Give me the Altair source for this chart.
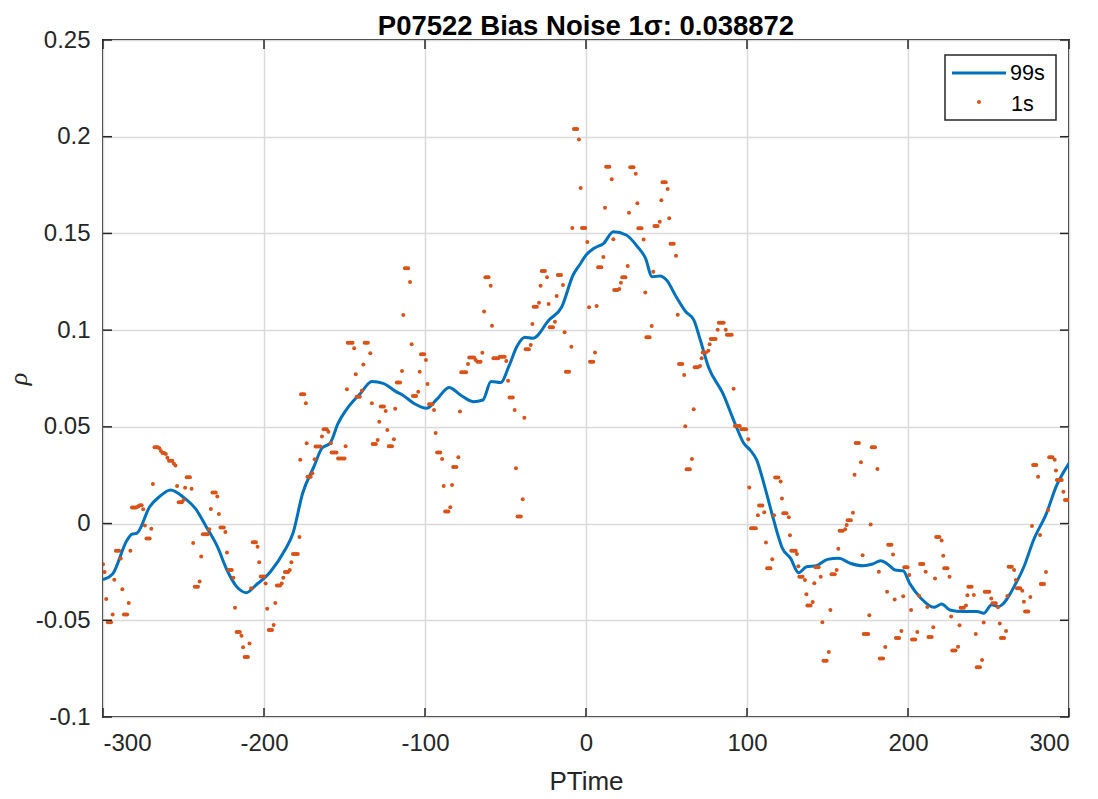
import altair as alt
import pandas as pd

# ---- data ----
line_99s = [(-300,-0.029),(-294,-0.026),(-285,-0.0085),(-282,-0.0055),(-279,-0.005),(-271,0.0087),(-265,0.0139),
(-258,0.0174),(-250,0.0136),(-242,0.0071),(-236,-0.0015),(-229,-0.0118),(-223,-0.024),(-217,-0.0326),(-211,-0.0357),
(-205,-0.0318),(-196,-0.0249),(-187,-0.0137),(-182,-0.005),(-176,0.0157),(-169,0.0294),(-164,0.039),(-159,0.0415),
(-154,0.0518),(-149,0.0587),(-140,0.0674),(-133,0.0734),(-126,0.0725),(-118,0.0682),(-114,0.0665),(-107,0.0622),
(-99,0.0596),(-93,0.0639),(-85,0.0704),(-78,0.0665),(-70,0.063),(-64,0.0639),(-59,0.0734),(-53,0.0729),(-48,0.0811),
(-43,0.0914),(-38,0.0963),(-33,0.0958),(-23,0.1052),(-15,0.1121),(-8,0.1285),(-4,0.1337),(0,0.1388),(5,0.1423),
(11,0.1449),(17,0.1509),(25,0.1492),(32,0.1431),(37,0.1371),(41,0.1276),(46,0.128),(50,0.1259),(56,0.1173),
(62,0.1095),(67,0.1052),(71,0.0949),(76,0.0811),(85,0.0673),(93,0.0508),(98,0.0415),(102,0.038),(106,0.0329),
(111,0.0191),(116,0.0036),(122,-0.0128),(127,-0.0179),(132,-0.0254),(137,-0.0223),(143,-0.0218),(150,-0.0185),
(157,-0.0179),(164,-0.0205),(172,-0.0218),(178,-0.0209),(183,-0.0192),(188,-0.0214),(192,-0.024),(197,-0.0244),
(201,-0.0309),(208,-0.0386),(216,-0.0433),(221,-0.0416),(226,-0.0447),(234,-0.0455),(243,-0.0455),(247,-0.0464),
(252,-0.042),(256,-0.0429),(267,-0.0309),(272,-0.0223),(278,-0.0085),(286,0.0053),(292,0.0191),(300,0.0311)]

dots_1s = [(-300,-0.021),(-299,-0.025),(-298,-0.039),(-297,-0.051),(-296,-0.051),(-295,-0.051),(-294,-0.047),(-293,-0.029),
(-292,-0.014),(-291,-0.014),(-290,-0.014),(-289,-0.018),(-288,-0.034),(-287,-0.047),(-286,-0.047),(-285,-0.047),
(-284,-0.041),(-283,-0.014),(-282,0.0083),(-281,0.0083),(-280,0.0083),(-279,0.0085),(-278,0.009),(-277,0.0095),
(-276,0.0095),(-275,0.0074),(-274,-0.001),(-273,-0.0077),(-272,-0.0077),(-271,-0.0077),(-270,-0.0027),(-269,0.0205),
(-268,0.0394),(-267,0.0394),(-266,0.0394),(-265,0.039),(-264,0.0375),(-263,0.0365),(-262,0.0365),(-261,0.036),
(-260,0.034),(-259,0.0325),(-258,0.0325),(-257,0.0325),(-256,0.031),(-255,0.030),(-254,0.0194),(-253,0.011),
(-252,0.011),(-251,0.011),(-250,0.0122),(-249,0.0185),(-248,0.024),(-247,0.024),(-246,0.024),(-245,0.018),
(-244,-0.010),(-243,-0.0326),(-242,-0.0326),(-241,-0.0326),(-240,-0.030),(-239,-0.017),(-238,-0.0055),(-237,-0.0055),
(-236,-0.0055),(-235,-0.0055),(-234,-0.003),(-233,0.0075),(-232,0.016),(-231,0.016),(-230,0.016),(-229,0.014),
(-228,0.005),(-227,-0.002),(-226,-0.002),(-225,-0.002),(-224,-0.0044),(-223,-0.015),(-222,-0.024),(-221,-0.024),
(-220,-0.024),(-219,-0.028),(-218,-0.0435),(-217,-0.056),(-216,-0.056),(-215,-0.056),(-214,-0.058),(-213,-0.064),
(-212,-0.069),(-211,-0.069),(-210,-0.069),(-209,-0.062),(-208,-0.0335),(-207,-0.0097),(-206,-0.0097),(-205,-0.0097),
(-204,-0.012),(-203,-0.020),(-202,-0.0274),(-201,-0.0274),(-200,-0.0274),(-199,-0.031),(-198,-0.044),(-197,-0.055),
(-196,-0.055),(-195,-0.055),(-194,-0.0525),(-193,-0.041),(-192,-0.032),(-191,-0.032),(-190,-0.032),(-189,-0.031),
(-188,-0.028),(-187,-0.025),(-186,-0.025),(-185,-0.025),(-184,-0.024),(-183,-0.020),(-182,-0.0157),(-181,-0.0157),
(-180,-0.0157),(-179,-0.0157),(-178,-0.007),
(-177.5,0.033),(-177,0.0668),(-176,0.0668),(-175,0.0668),(-174,0.0622),(-173.5,0.0415),(-173,0.0242),(-172,0.0242),
(-171,0.0242),(-170,0.026),(-168.5,0.0333),(-168,0.0398),(-167,0.0398),(-166,0.0398),(-165,0.0398),(-164,0.045),
(-163,0.0488),(-162,0.0488),(-161,0.0488),(-160,0.0475),(-158.5,0.0415),(-158,0.0367),(-157,0.0367),(-156,0.0367),
(-155,0.0367),(-154,0.0337),(-153,0.0337),(-152,0.0337),(-151,0.0337),(-150,0.0337),(-149.3,0.040),(-148.5,0.0694),
(-148,0.0935),(-147,0.0935),(-146,0.0935),(-145,0.0935),(-144,0.0906),(-143,0.0772),(-142.5,0.0656),(-141.5,0.0656),
(-140.5,0.0656),(-139.3,0.0687),(-138.3,0.0823),(-137.5,0.0935),(-136.5,0.0935),(-135.5,0.0935),(-134,0.088),
(-133,0.0622),(-132.5,0.0411),(-131.5,0.0411),(-130.5,0.0411),(-129.4,0.0432),(-128.4,0.0527),(-127.5,0.0605),
(-126.5,0.0605),(-125.5,0.0605),(-124.4,0.0582),(-123.4,0.0484),(-122.5,0.040),(-121.5,0.040),(-120.5,0.040),
(-119.3,0.0436),(-118.5,0.0594),(-117.5,0.0729),(-116.5,0.0729),(-115.5,0.0729),(-114.3,0.0789),(-113.5,0.1078),
(-112.5,0.132),(-111.5,0.132),(-110.5,0.132),(-109.3,0.1249),(-108.3,0.0927),(-107.5,0.066),(-106.5,0.066),
(-105.5,0.066),(-104.2,0.0682),(-103.3,0.0785),(-102.5,0.0875),(-101.5,0.0875),(-100.5,0.0875),(-99.4,0.0846),
(-98.4,0.0721),(-97.5,0.0617),(-96.5,0.0617),(-95.5,0.0617),(-94.4,0.0587),(-93.4,0.0468),(-92.5,0.0368),
(-91.5,0.0368),(-90.5,0.0368),(-89.4,0.0334),(-88.4,0.0194),(-87.5,0.0062),(-86.5,0.0062),(-85.5,0.0062),
(-84.3,0.0085),(-83.2,0.0199),(-82.5,0.0293),(-81.5,0.0293),(-80.5,0.0293),(-79.3,0.0343),(-78.3,0.058),
(-77.5,0.0782),(-76.5,0.0782),(-75.5,0.0782),(-74.5,0.0782),(-73.3,0.0825),(-72.5,0.0858),(-71.5,0.0858),
(-70.5,0.0858),(-69.5,0.0858),(-68.5,0.0846),(-67.5,0.0837),(-66.5,0.0837),(-65.5,0.0837),(-64.4,0.0883),
(-63.3,0.1096),(-62.5,0.1273),(-61.5,0.1273),(-60.5,0.1273),(-59.2,0.123),(-58.4,0.1023),(-57.5,0.0855),
(-56.5,0.0855),(-55.5,0.0855),(-54.5,0.0855),(-53.5,0.0863),(-52.5,0.0863),(-51.5,0.0863),(-50.5,0.0863),
(-49.5,0.0841),(-48.4,0.0739),(-47.5,0.0652),(-46.5,0.0652),(-45.5,0.0652),(-44.3,0.0587),(-43.5,0.0286),
(-42.5,0.0036),(-41.5,0.0036),(-40.5,0.0036),(-39.3,0.0126),(-38.3,0.0547),(-37.5,0.0901),(-36.5,0.0901),
(-35.5,0.0901),(-34.3,0.0923),(-33.3,0.1032),(-32.5,0.1121),(-31.5,0.1121),(-30.5,0.1121),(-29.2,0.1142),
(-28.2,0.123),(-27.5,0.1306),(-26.5,0.1306),(-25.5,0.1306),(-24.2,0.1273),(-23.2,0.1135),(-22.5,0.1015),
(-21.5,0.1015),(-20.5,0.1015),(-19.3,0.1044),(-18.2,0.1177),(-17.5,0.1285),(-16.5,0.1285),(-15.5,0.1285),
(-14.3,0.1233),(-13.3,0.0989),(-12.5,0.0785),(-11.5,0.0785),(-10.5,0.0785),(-9.1,0.0914),
(-8.5,0.1528),(-7.5,0.204),(-6.5,0.204),(-5.5,0.204),(-4.4,0.1985),(-3.3,0.1735),(-2.5,0.1528),(-1.5,0.1528),
(-0.5,0.1528),(0.8,0.1456),(1.9,0.1118),(2.5,0.0837),(3.5,0.0837),(4.5,0.0837),(5.6,0.0885),(6.6,0.1125),
(7.5,0.1325),(8.5,0.1325),(9.5,0.1325),(10.8,0.1378),(11.8,0.1633),(12.5,0.1845),(13.5,0.1845),(14.5,0.1845),
(16,0.178),(17,0.147),(17.5,0.1208),(18.5,0.1208),(19.5,0.1208),(20.7,0.1213),(21.7,0.1245),(22.5,0.1273),
(23.5,0.1273),(24.5,0.1273),(25.9,0.1332),(26.7,0.1607),(27.5,0.1842),(28.5,0.1842),(29.5,0.1842),(30.9,0.1809),
(31.9,0.1656),(32.5,0.1527),(33.5,0.1527),(34.5,0.1527),(35.8,0.1468),(36.8,0.1194),(37.5,0.0963),(38.5,0.0963),
(39.5,0.0963),(40.8,0.1021),(41.8,0.1302),(42.5,0.1538),(43.5,0.1538),(44.5,0.1538),(45.8,0.1561),(46.8,0.1671),
(47.5,0.1764),(48.5,0.1764),(49.5,0.1764),(50.7,0.173),(51.7,0.1578),(52.5,0.1447),(53.5,0.1447),(54.5,0.1447),
(55.9,0.1384),(57,0.108),(57.8,0.0825),(58.8,0.0825),(59.8,0.0825),(61,0.0768),(61.7,0.0503),(62.5,0.0281),
(63.5,0.0281),(64.5,0.0281),(65.8,0.0334),(66.9,0.0591),(67.5,0.0808),(68.5,0.0808),(69.5,0.0808),(70.8,0.0815),
(71.8,0.0855),(72.5,0.0885),(73.5,0.0885),(74.5,0.0885),(76,0.0894),(76.8,0.0927),(77.5,0.0954),(78.5,0.0954),
(79.5,0.0954),(80.5,0.0954),(81.8,0.1002),(82.5,0.1038),(83.5,0.1038),(84.5,0.1038),(85.5,0.1038),(86.8,0.1002),
(87.5,0.0976),(88.5,0.0976),(89.5,0.0976),(90.5,0.0976),(91.7,0.0697),(92.5,0.0505),(93.5,0.0505),(94.5,0.0505),
(95.5,0.0505),(96.5,0.0488),(97.5,0.0488),(98.5,0.0488),(99.5,0.0488),(100.8,0.0436),(101.4,0.0186),
(102.5,-0.0024),(103.5,-0.0024),(104.5,-0.0024),(105.5,-0.0024),(106.8,0.0043),(107.5,0.0093),(108.5,0.0093),
(109.5,0.0093),(110.7,0.0059),(111.8,-0.0098),(112.5,-0.0231),(113.5,-0.0231),(114.5,-0.0231),(115.7,-0.0185),
(116.8,0.0043),(117.5,0.0238),(118.5,0.0238),(119.5,0.0238),(120.9,0.0217),(121.7,0.0129),(122.5,0.0053),
(123.5,0.0053),(124.5,0.0053),(126,0.0033),(126.7,-0.006),(127.5,-0.014),(128.5,-0.014),(129.5,-0.014),
(130.3,-0.014),(131,-0.0157),(131.9,-0.022),(132.5,-0.0275),(133.5,-0.0275),(134.5,-0.0275),(136,-0.0292),
(136.9,-0.0365),(137.5,-0.0424),(138.5,-0.0424),(139.5,-0.0424),(140.8,-0.0405),(141.8,-0.0309),(142.5,-0.0226),
(143.5,-0.0226),(144.5,-0.0226),(145.8,-0.0275),(146.8,-0.051),(147.5,-0.0709),(148.5,-0.0709),(149.5,-0.0709),
(150.8,-0.0664),(151.8,-0.0447),(152.5,-0.0262),(153.5,-0.0262),(154.5,-0.0262),(155.7,-0.024),(156.7,-0.013),
(157.5,-0.0037),(158.5,-0.0037),(159.5,-0.0037),(161,-0.003),(161.9,-0.0007),(162.5,0.0017),(163.5,0.0017),
(164.5,0.0017),(165.8,0.0056),(166.8,0.0253),(167.5,0.0417),(168.5,0.0417),(169.5,0.0417),(170.8,0.0317),
(171.8,-0.0164),(172.5,-0.0571),(173.5,-0.0571),(174.5,-0.0571),(175.3,-0.0571),(176,-0.0474),(176.8,-0.0005),
(177.5,0.0394),(178.5,0.0394),(179.5,0.0394),(181,0.0282),(181.9,-0.0249),(182.5,-0.0697),(183.5,-0.0697),
(184.5,-0.0697),(185.9,-0.0638),(187,-0.0352),(187.7,-0.011),(188.7,-0.011),(189.7,-0.011),(190.7,-0.016),
(191.7,-0.0393),(192.5,-0.0592),(193.5,-0.0592),(194.5,-0.0592),(195.9,-0.0556),(197,-0.0376),(197.7,-0.0226),
(198.7,-0.0226),(199.7,-0.0226),(200.8,-0.0266),(201.9,-0.0447),(202.5,-0.0599),(203.5,-0.0599),(204.5,-0.0599),
(205.8,-0.0561),(206.9,-0.0373),(207.5,-0.0209),(208.5,-0.0209),(209.5,-0.0209),(211,-0.0249),(212,-0.0431),
(212.7,-0.0587),(213.7,-0.0587),(214.7,-0.0587),(215.7,-0.0536),(216.8,-0.0284),(217.5,-0.007),(218.5,-0.007),
(219.5,-0.007),(220.9,-0.0088),(221.9,-0.0166),(222.5,-0.0231),(223.5,-0.0231),(224.5,-0.0231),(225.8,-0.0275),
(226.8,-0.0481),(227.5,-0.0656),(228.5,-0.0656),(229.5,-0.0656),(231.1,-0.0637),(232,-0.0526),(232.7,-0.0435),
(233.7,-0.0435),(234.7,-0.0435),(236,-0.0423),(236.9,-0.0371),(237.5,-0.0326),(238.5,-0.0326),(239.5,-0.0326),
(240.9,-0.0369),(242.1,-0.0571),(242.7,-0.0743),(243.7,-0.0743),(244.7,-0.0743),(246,-0.0705),(247,-0.0512),
(247.7,-0.0352),(248.7,-0.0352),(249.7,-0.0352),(250.5,-0.0352),(251.7,-0.0388),(252.5,-0.0412),(253.5,-0.0412),
(254.5,-0.0412),(255.9,-0.0433),(257,-0.0516),(257.7,-0.0592),(258.7,-0.0592),(259.7,-0.0592),(260.9,-0.0556),
(261.7,-0.0375),(262.5,-0.0223),(263.5,-0.0223),(264.5,-0.0223),(265.9,-0.024),(267,-0.0292),(267.7,-0.0335),
(268.7,-0.0335),(269.7,-0.0335),(271,-0.0347),(272,-0.0404),(272.7,-0.0454),(273.7,-0.0454),(274.7,-0.0454),
(276,-0.038),(277,-0.0013),(277.7,0.0303),(278.7,0.0303),(279.7,0.0303),(280.8,0.0242),(282,-0.0059),
(282.5,-0.0313),(283.5,-0.0313),(284.5,-0.0313),(285.7,-0.0251),(287,0.007),(287.7,0.0343),(288.7,0.0343),
(289.7,0.0343),(291.1,0.033),(291.9,0.0274),(292.5,0.0225),(293.5,0.0225),(294.5,0.0225),(295.5,0.0225),
(296.5,0.0164),(297.5,0.0122),(298.5,0.0122),(299.5,0.0122)]

x_ticks = [-300, -200, -100, 0, 100, 200, 300]
y_ticks = [-0.1, -0.05, 0, 0.05, 0.1, 0.15, 0.2, 0.25]
legend_labels = ["99s", "1s"]
title_text = "P07522 Bias Noise 1σ: 0.038872"

LINE_C = "#0072BD"
DOT_C = "#D95319"
AX_C = "#262626"
FONT = "Liberation Sans"
W, H = 966, 677

line_df = pd.DataFrame(line_99s, columns=["t", "rho"])
dot_df = pd.DataFrame(dots_1s, columns=["t", "rho"])
xt_df = pd.DataFrame({"t": x_ticks})
yt_df = pd.DataFrame({"rho": y_ticks})
one = pd.DataFrame({"k": [0]})

xaxis = alt.Axis(values=x_ticks, title="PTime", grid=True, labelExpr="'' + datum.value",
                 labelPadding=14, titleY=64, titleBaseline="middle")
yaxis = alt.Axis(values=y_ticks, title="ρ", grid=True, labelExpr="'' + datum.value",
                 labelPadding=13, titleX=-85, titleY=H / 2, titleBaseline="middle",
                 titleFont="Liberation Serif", titleFontStyle="italic", titleFontWeight="normal")
X = alt.X("t:Q", scale=alt.Scale(domain=[-300, 300], nice=False, zero=False), axis=xaxis)
Y = alt.Y("rho:Q", scale=alt.Scale(domain=[-0.1, 0.25], nice=False, zero=False), axis=yaxis)

line = alt.Chart(line_df).mark_line(color=LINE_C, strokeWidth=3, interpolate="monotone", clip=True).encode(x=X, y=Y)
dots = alt.Chart(dot_df).mark_circle(color=DOT_C, size=16, opacity=1, clip=True).encode(x=X, y=Y)

tick_top = alt.Chart(xt_df).mark_rule(color=AX_C, strokeWidth=1.5).encode(x=X, y=alt.value(0), y2=alt.value(9))
tick_bot = alt.Chart(xt_df).mark_rule(color=AX_C, strokeWidth=1.5).encode(x=X, y=alt.value(H - 9), y2=alt.value(H))
tick_left = alt.Chart(yt_df).mark_rule(color=AX_C, strokeWidth=1.5).encode(y=Y, x=alt.value(0), x2=alt.value(9))
tick_right = alt.Chart(yt_df).mark_rule(color=AX_C, strokeWidth=1.5).encode(y=Y, x=alt.value(W - 9), x2=alt.value(W))

# legend box
leg_box = alt.Chart(one).mark_rect(fill="white", stroke=AX_C, strokeWidth=1.5).encode(
    x=alt.value(842), x2=alt.value(953), y=alt.value(15), y2=alt.value(80))
leg_line = alt.Chart(one).mark_rule(color=LINE_C, strokeWidth=3).encode(
    x=alt.value(849), x2=alt.value(903), y=alt.value(33))
leg_dot = alt.Chart(one).mark_circle(color=DOT_C, size=16, opacity=1).encode(
    x=alt.value(876), y=alt.value(62))
leg_t1 = alt.Chart(one).mark_text(align="left", baseline="middle", font=FONT, fontSize=21.6, color="black").encode(
    x=alt.value(907), y=alt.value(34), text=alt.value(legend_labels[0]))
leg_t2 = alt.Chart(one).mark_text(align="left", baseline="middle", font=FONT, fontSize=21.6, color="black").encode(
    x=alt.value(908), y=alt.value(65), text=alt.value(legend_labels[1]))

chart = alt.layer(
    line, dots, tick_top, tick_bot, tick_left, tick_right,
    leg_box, leg_line, leg_dot, leg_t1, leg_t2
).properties(
    width=W, height=H,
    title=alt.TitleParams(title_text, font=FONT, fontSize=27.5, fontWeight="bold", color="black",
                          anchor="middle", offset=8, dy=20),
    autosize=alt.AutoSizeParams(type="none"),
    padding={"left": 103, "top": 40, "right": 29, "bottom": 82},
).configure_view(
    stroke=AX_C, strokeWidth=2
).configure_axis(
    domain=False, ticks=False, tickSize=0,
    labelFont=FONT, labelFontSize=24, labelColor=AX_C,
    titleFont=FONT, titleFontSize=26, titleColor=AX_C, titleFontWeight="normal",
    gridColor="#dadada", gridWidth=1.5,
)

chart.save("out.html", embed_options={"renderer": "svg", "actions": False})
